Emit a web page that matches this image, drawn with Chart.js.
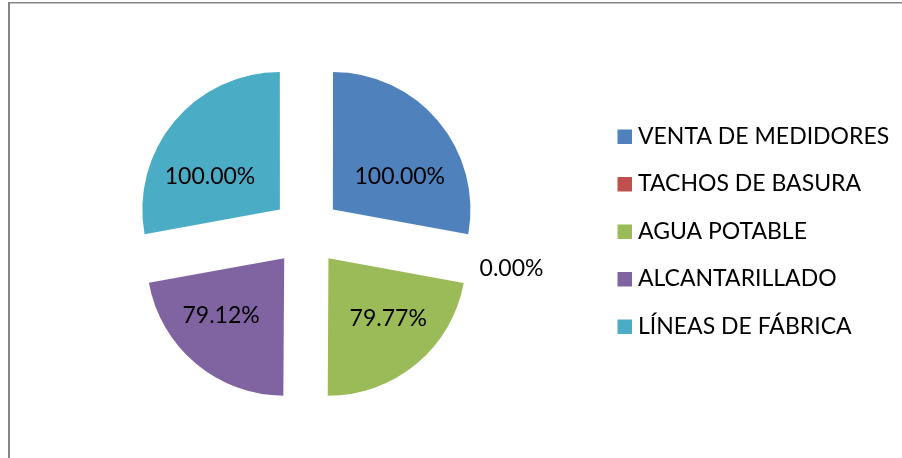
<!DOCTYPE html>
<html>
<head>
<meta charset="utf-8">
<script src="https://cdn.jsdelivr.net/npm/chart.js@4.4.0/dist/chart.umd.min.js"></script>
<style>
  html, body { margin: 0; padding: 0; background: #ffffff; }
  #wrap { position: relative; width: 902px; height: 458px; }
</style>
</head>
<body>
<div id="wrap"><canvas id="c" width="902" height="458"></canvas></div>
<script>
// ---- data ----
const categories = ["VENTA DE MEDIDORES", "TACHOS DE BASURA", "AGUA POTABLE", "ALCANTARILLADO", "LÍNEAS DE FÁBRICA"];
const percentValues = [100.00, 0.00, 79.77, 79.12, 100.00];
const sliceColors = ["#4F81BD", "#C0504D", "#9BBB59", "#8064A2", "#4BACC6"];

// ---- style ----
const FONT = "Lato, 'Open Sans', sans-serif";
const FONT_SIZE = 23;
const SLICE_OFFSET = 138;        // Chart.js translates by offset/4
const RADIUS = 137;
const LABEL_DIST = 78;           // from exploded corner, along mid angle
const OUTSIDE_FACTOR = 1.27;     // for zero slices, multiple of radius
const LABEL_NUDGE = [[7, 17], [0, 0], [10, 0], [-13, -2], [-10, 17]];

const framePlugin = {
  id: 'frame',
  beforeDraw(chart) {
    const ctx = chart.ctx;
    ctx.save();
    ctx.fillStyle = '#ffffff';
    ctx.fillRect(0, 0, chart.width, chart.height);
    ctx.strokeStyle = '#868686';
    ctx.lineWidth = 2;
    ctx.beginPath();
    ctx.moveTo(9, chart.height + 5);
    ctx.lineTo(9, 2.5);
    ctx.stroke();
    ctx.lineWidth = 1.5;
    ctx.beginPath();
    ctx.moveTo(8, 2.75);
    ctx.lineTo(chart.width + 5, 2.75);
    ctx.stroke();
    ctx.restore();
  }
};

const labelPlugin = {
  id: 'sliceLabels',
  afterDatasetsDraw(chart) {
    const ctx = chart.ctx;
    const meta = chart.getDatasetMeta(0);
    const ds = chart.data.datasets[0];
    ctx.save();
    ctx.font = FONT_SIZE + 'px ' + FONT;
    ctx.fillStyle = '#000000';
    ctx.textAlign = 'center';
    ctx.textBaseline = 'middle';
    meta.data.forEach((el, i) => {
      const p = el.getProps(['x', 'y', 'startAngle', 'endAngle', 'outerRadius'], true);
      const mid = (p.startAngle + p.endAngle) / 2;
      const t = SLICE_OFFSET / 4;
      const zero = Math.abs(p.endAngle - p.startAngle) < 1e-6;
      const d = zero ? t + OUTSIDE_FACTOR * p.outerRadius : t + LABEL_DIST;
      const nx = LABEL_NUDGE[i] ? LABEL_NUDGE[i][0] : 0;
      const ny = LABEL_NUDGE[i] ? LABEL_NUDGE[i][1] : 0;
      const lx = p.x + Math.cos(mid) * d + nx;
      const ly = p.y + Math.sin(mid) * d + ny;
      ctx.fillText(ds.data[i].toFixed(2) + '%', lx, ly);
    });
    ctx.restore();
  },
  afterDraw(chart) {
    const ctx = chart.ctx;
    const ds = chart.data.datasets[0];
    ctx.save();
    ctx.font = FONT_SIZE + 'px ' + FONT;
    ctx.fillStyle = '#000000';
    ctx.textAlign = 'left';
    ctx.textBaseline = 'alphabetic';
    const boxX = 617.5, boxTop = 129.5, box = 14.5, pitch = 47.5, textX = 638;
    chart.data.labels.forEach((lab, i) => {
      const y = boxTop + i * pitch;
      ctx.fillStyle = ds.backgroundColor[i];
      ctx.fillRect(boxX, y, box, box);
      ctx.fillStyle = '#000000';
      ctx.fillText(lab, textX, y + box - 0.5);
    });
    ctx.restore();
  }
};

new Chart(document.getElementById('c'), {
  type: 'pie',
  data: {
    labels: categories,
    datasets: [{
      data: percentValues,
      backgroundColor: sliceColors,
      borderWidth: 0,
      offset: SLICE_OFFSET
    }]
  },
  options: {
    responsive: false,
    animation: false,
    events: [],
    radius: RADIUS,
    layout: { padding: { left: 0, right: 289.2, top: 5.4, bottom: 0 } },
    plugins: {
      legend: { display: false },
      tooltip: { enabled: false }
    }
  },
  plugins: [framePlugin, labelPlugin]
});
</script>
</body>
</html>
